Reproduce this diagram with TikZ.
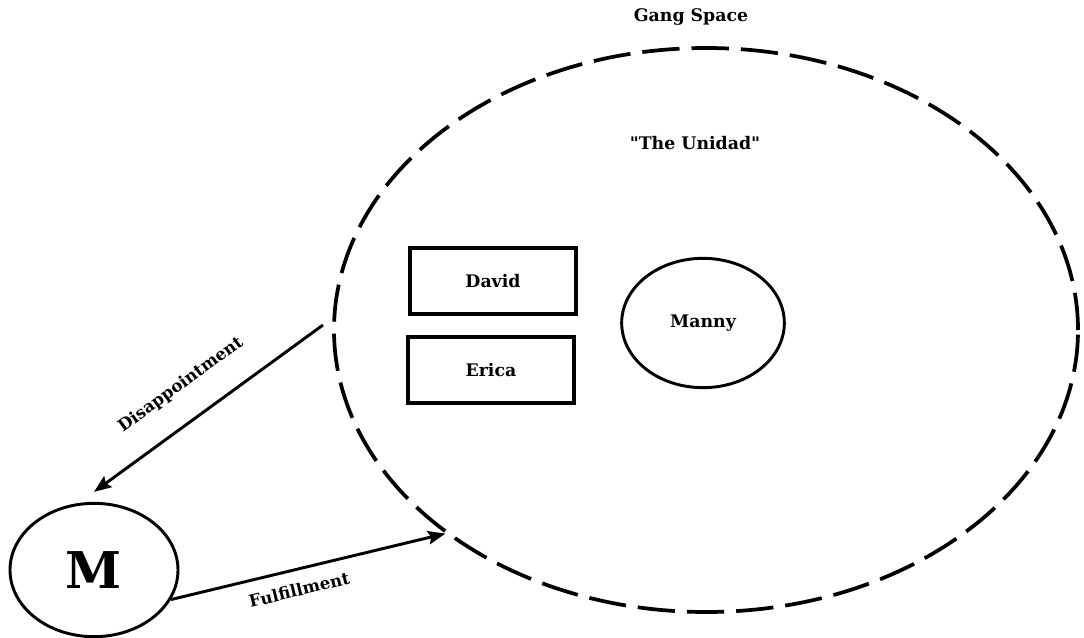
\documentclass[tikz,border=0pt]{standalone}
\usepackage{fontspec}
\setmainfont{DejaVu Serif}[Ligatures=TeXOff]
\usetikzlibrary{arrows.meta,calc,shapes.geometric}
\tikzset{
    gangspace/.style={ellipse,draw,line width=2.8pt,dash pattern=on 28pt off 9pt,
        minimum width=558pt,minimum height=423pt,inner sep=0pt},
    memberbox/.style={rectangle,draw,line width=2.8pt,minimum width=125pt,
        minimum height=49pt,font=\bfseries\fontsize{13}{15}\selectfont},
    membercirc/.style={ellipse,draw,line width=2.2pt,inner sep=0pt},
    flowarrow/.style={->,line width=2.2pt},
    flowlabel/.style={sloped,font=\bfseries\fontsize{12.5}{15}\selectfont},
    spacelabel/.style={font=\bfseries\fontsize{13}{15}\selectfont}
}

\begin{document}
\begin{tikzpicture}[x=0.75pt,y=-0.75pt,>={Stealth[length=13pt,width=10pt,inset=2pt]}]
    \useasboundingbox (0,0) rectangle (1084,638);
    % Gang space
    \node[gangspace] (gang) at (706,330) {};
    \node[spacelabel] (gangtitle) at (691,17) {Gang Space};
    \node[spacelabel] (unidad) at (695,143) {"The Unidad"};
    % Members
    \node[memberbox] (david) at (493,281) {David};
    \node[memberbox] (erica) at (491,370) {Erica};
    \node[membercirc,minimum width=122pt,minimum height=97pt,
        font=\bfseries\fontsize{13}{15}\selectfont] (manny) at (703,323) {Manny};
    % M
    \node[membercirc,minimum width=126pt,minimum height=100pt,
        font=\bfseries\fontsize{38}{40}\selectfont] (M) at (94,570) {M};
    % Flows
    \coordinate (leave) at (323,325);
    \draw[flowarrow] (leave) -- ($(M.north)+(0,-10)$)
        node[flowlabel,pos=0.53,above=16pt] {Disappointment};
    \draw[flowarrow] (M.-21) -- (gang.218)
        node[flowlabel,pos=0.45,below=6pt] {Fulfillment};
\end{tikzpicture}
\end{document}
